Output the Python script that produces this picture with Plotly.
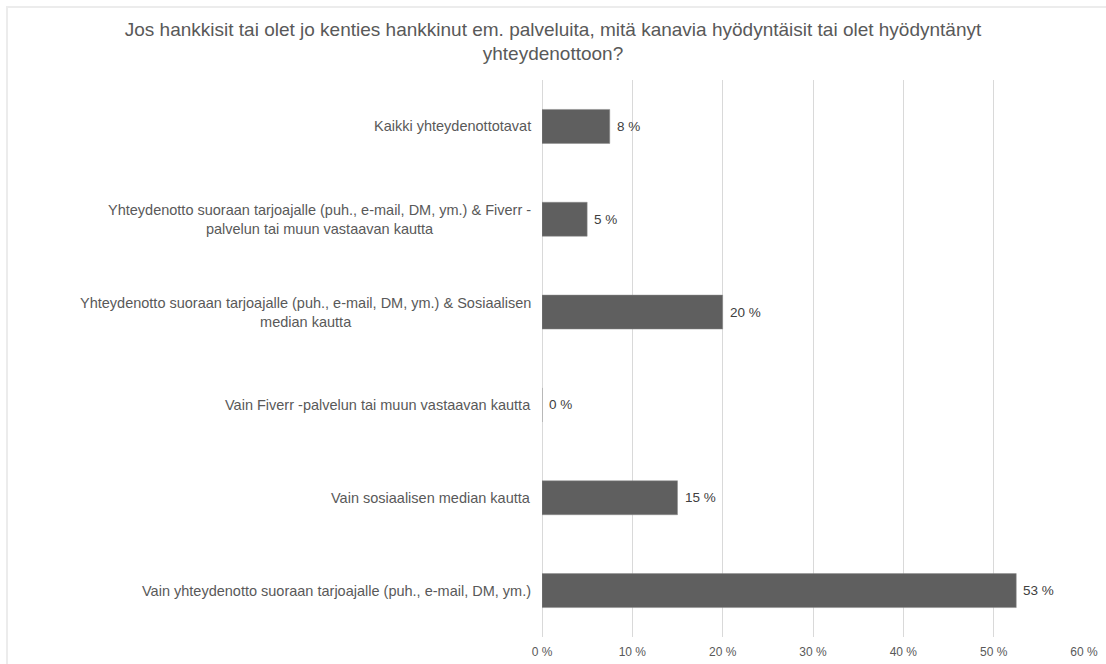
import plotly.graph_objects as go

TITLE = ("Jos hankkisit tai olet jo kenties hankkinut em. palveluita, mitä kanavia hyödyntäisit tai olet hyödyntänyt"
         "<br>yhteydenottoon?")

CATEGORIES = [
    "Kaikki yhteydenottotavat",
    "Yhteydenotto suoraan tarjoajalle (puh., e-mail, DM, ym.) & Fiverr -<br>palvelun tai muun vastaavan kautta",
    "Yhteydenotto suoraan tarjoajalle (puh., e-mail, DM, ym.) & Sosiaalisen<br>median kautta",
    "Vain Fiverr -palvelun tai muun vastaavan kautta",
    "Vain sosiaalisen median kautta",
    "Vain yhteydenotto suoraan tarjoajalle (puh., e-mail, DM, ym.)",
]
VALUES = [7.5, 5.0, 20.0, 0.0, 15.0, 52.5]
X_TICKS = [0, 10, 20, 30, 40, 50, 60]

TEXT_COLOR = "#595959"
BAR_COLOR = "#5f5f5f"
FONT = "Liberation Sans, Arial, sans-serif"

labels = [f"{int(v + 0.5)} %" for v in VALUES]

fig = go.Figure()
fig.add_trace(go.Bar(
    x=VALUES, y=CATEGORIES, orientation="h",
    marker=dict(color=BAR_COLOR, line=dict(color="#8c8c8c", width=0.5)),
    hoverinfo="skip",
))

# category labels as centred multi-line annotations (Excel style)
for cat in CATEGORIES:
    fig.add_annotation(
        x=0, xref="paper", y=cat, yref="y",
        text=cat, showarrow=False, xanchor="right", xshift=-9,
        align="center", font=dict(size=14.5, color=TEXT_COLOR, family=FONT),
    )

# value labels just right of each bar
for cat, v, lab in zip(CATEGORIES, VALUES, labels):
    fig.add_annotation(
        x=v, xref="x", y=cat, yref="y",
        text=lab, showarrow=False, xanchor="left", xshift=5,
        font=dict(size=13.5, color="#404040", family=FONT),
    )

# light chart frame
fig.add_shape(
    type="rect", xref="paper", yref="paper",
    x0=-0.987, x1=1.06, y0=-0.08, y1=1.131,
    line=dict(color="#ececec", width=2), fillcolor="rgba(0,0,0,0)",
    layer="below",
)

fig.update_layout(
    title=dict(text=TITLE, x=0.5, xanchor="center", y=0.9465, yanchor="top",
               font=dict(size=19, color=TEXT_COLOR, family=FONT)),
    width=1106, height=664,
    margin=dict(l=542, r=22, t=80, b=27),
    paper_bgcolor="white", plot_bgcolor="white",
    bargap=0.634, showlegend=False,
    font=dict(family=FONT, color=TEXT_COLOR),
    xaxis=dict(
        range=[0, 60], tickvals=X_TICKS, ticktext=[f"{t} %" for t in X_TICKS],
        showgrid=True, gridcolor="#d9d9d9", gridwidth=1,
        zeroline=True, zerolinecolor="#d9d9d9", zerolinewidth=1,
        showline=False, ticks="", ticklabelstandoff=6, automargin=False,
        tickfont=dict(size=12, color=TEXT_COLOR, family=FONT),
    ),
    yaxis=dict(
        autorange="reversed", showticklabels=False, showgrid=False,
        showline=False, ticks="", automargin=False,
    ),
)

fig.write_html(
    "out.html",
    config={"displayModeBar": False},
    post_script="document.body.style.margin='0';document.body.style.overflow='hidden';",
)
